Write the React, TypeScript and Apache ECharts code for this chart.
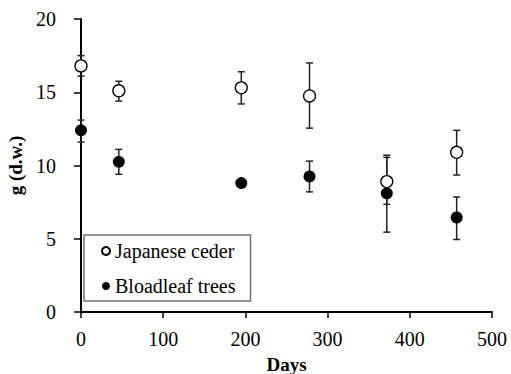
import React, { useEffect, useRef } from "react";
import * as echarts from "echarts";

const days = [0, 46, 195, 278, 372, 457];
const cedarMean = [16.8, 15.1, 15.3, 14.75, 8.9, 10.9];
const cedarLow = [16.1, 14.4, 14.2, 12.55, 7.35, 9.35];
const cedarHigh = [17.5, 15.75, 16.4, 17.0, 10.7, 12.4];
const broadMean = [12.4, 10.25, 8.8, 9.25, 8.1, 6.45];
const broadLow = [11.6, 9.4, 8.8, 8.2, 5.45, 4.95];
const broadHigh = [13.1, 11.1, 8.8, 10.3, 10.55, 7.85];
const yTicks = [0, 5, 10, 15, 20];
const xTicks = [0, 100, 200, 300, 400, 500];

const FONT = "Liberation Serif";

function errorSeries(name: string, low: number[], high: number[], color: string) {
  return {
    type: "custom",
    name,
    z: 1,
    silent: true,
    data: days.map((d, i) => [d, low[i], high[i]]),
    renderItem: (params: any, api: any) => {
      const x = api.value(0);
      const lo = api.coord([x, api.value(1)]);
      const hi = api.coord([x, api.value(2)]);
      const w = 3.5;
      const style = { stroke: color, lineWidth: 1.5 };
      return {
        type: "group",
        children: [
          { type: "line", shape: { x1: lo[0], y1: lo[1], x2: hi[0], y2: hi[1] }, style },
          { type: "line", shape: { x1: lo[0] - w, y1: lo[1], x2: lo[0] + w, y2: lo[1] }, style },
          { type: "line", shape: { x1: hi[0] - w, y1: hi[1], x2: hi[0] + w, y2: hi[1] }, style },
        ],
      };
    },
  };
}

export default function App() {
  const ref = useRef<HTMLDivElement>(null);
  useEffect(() => {
    if (!ref.current) return;
    const chart = echarts.init(ref.current, null, { renderer: "svg" });
    chart.setOption({
      animation: false,
      textStyle: { fontFamily: FONT },
      grid: { left: 81, right: 19, top: 19, bottom: 62, containLabel: false, outerBoundsMode: "none" },
      legend: {
        orient: "vertical",
        left: 84,
        top: 235,
        data: ["Japanese ceder", "Bloadleaf trees"],
        borderColor: "#707070",
        borderWidth: 1.5,
        padding: [6, 15, 5, 17],
        itemWidth: 8,
        itemHeight: 8,
        itemGap: 15,
        textStyle: { fontFamily: FONT, fontSize: 20, color: "#000" },
      },
      xAxis: {
        type: "value",
        min: 0,
        max: 500,
        interval: 100,
        name: "Days",
        nameLocation: "middle",
        nameGap: 43,
        nameTextStyle: { fontFamily: FONT, fontSize: 19, fontWeight: "bold", color: "#000", lineHeight: 19 },
        axisLine: { show: true, onZero: false, lineStyle: { color: "#000", width: 2 } },
        axisTick: { show: true, length: 6, lineStyle: { color: "#000", width: 1.5 } },
        axisLabel: {
          fontFamily: FONT,
          fontSize: 20,
          color: "#000",
          margin: 17,
          formatter: (v: number) => (xTicks.includes(v) ? String(v) : ""),
        },
        splitLine: { show: false },
      },
      yAxis: {
        type: "value",
        min: 0,
        max: 20,
        interval: 5,
        name: "g (d.w.)",
        nameLocation: "middle",
        nameGap: 54,
        nameTextStyle: { fontFamily: FONT, fontSize: 19, fontWeight: "bold", color: "#000" },
        axisLine: { show: true, onZero: false, lineStyle: { color: "#000", width: 2 } },
        axisTick: { show: true, length: 7, lineStyle: { color: "#000", width: 1.5 } },
        axisLabel: {
          fontFamily: FONT,
          fontSize: 20,
          color: "#000",
          margin: 25,
          formatter: (v: number) => (yTicks.includes(v) ? String(v) : ""),
        },
        splitLine: { show: false },
      },
      series: [
        errorSeries("cedarErr", cedarLow, cedarHigh, "#222"),
        errorSeries("broadErr", broadLow, broadHigh, "#222"),
        {
          type: "scatter",
          name: "Japanese ceder",
          z: 3,
          symbol: "circle",
          symbolSize: 12,
          itemStyle: { color: "#fff", borderColor: "#000", borderWidth: 1.3, opacity: 1 },
          data: days.map((d, i) => [d, cedarMean[i]]),
        },
        {
          type: "scatter",
          name: "Bloadleaf trees",
          z: 3,
          symbol: "circle",
          symbolSize: 12,
          itemStyle: { color: "#000", opacity: 1 },
          data: days.map((d, i) => [d, broadMean[i]]),
        },
      ],
    });
    return () => chart.dispose();
  }, []);
  return <div ref={ref} style={{ width: 511, height: 374, position: "absolute", left: 0, top: 0 }} />;
}
